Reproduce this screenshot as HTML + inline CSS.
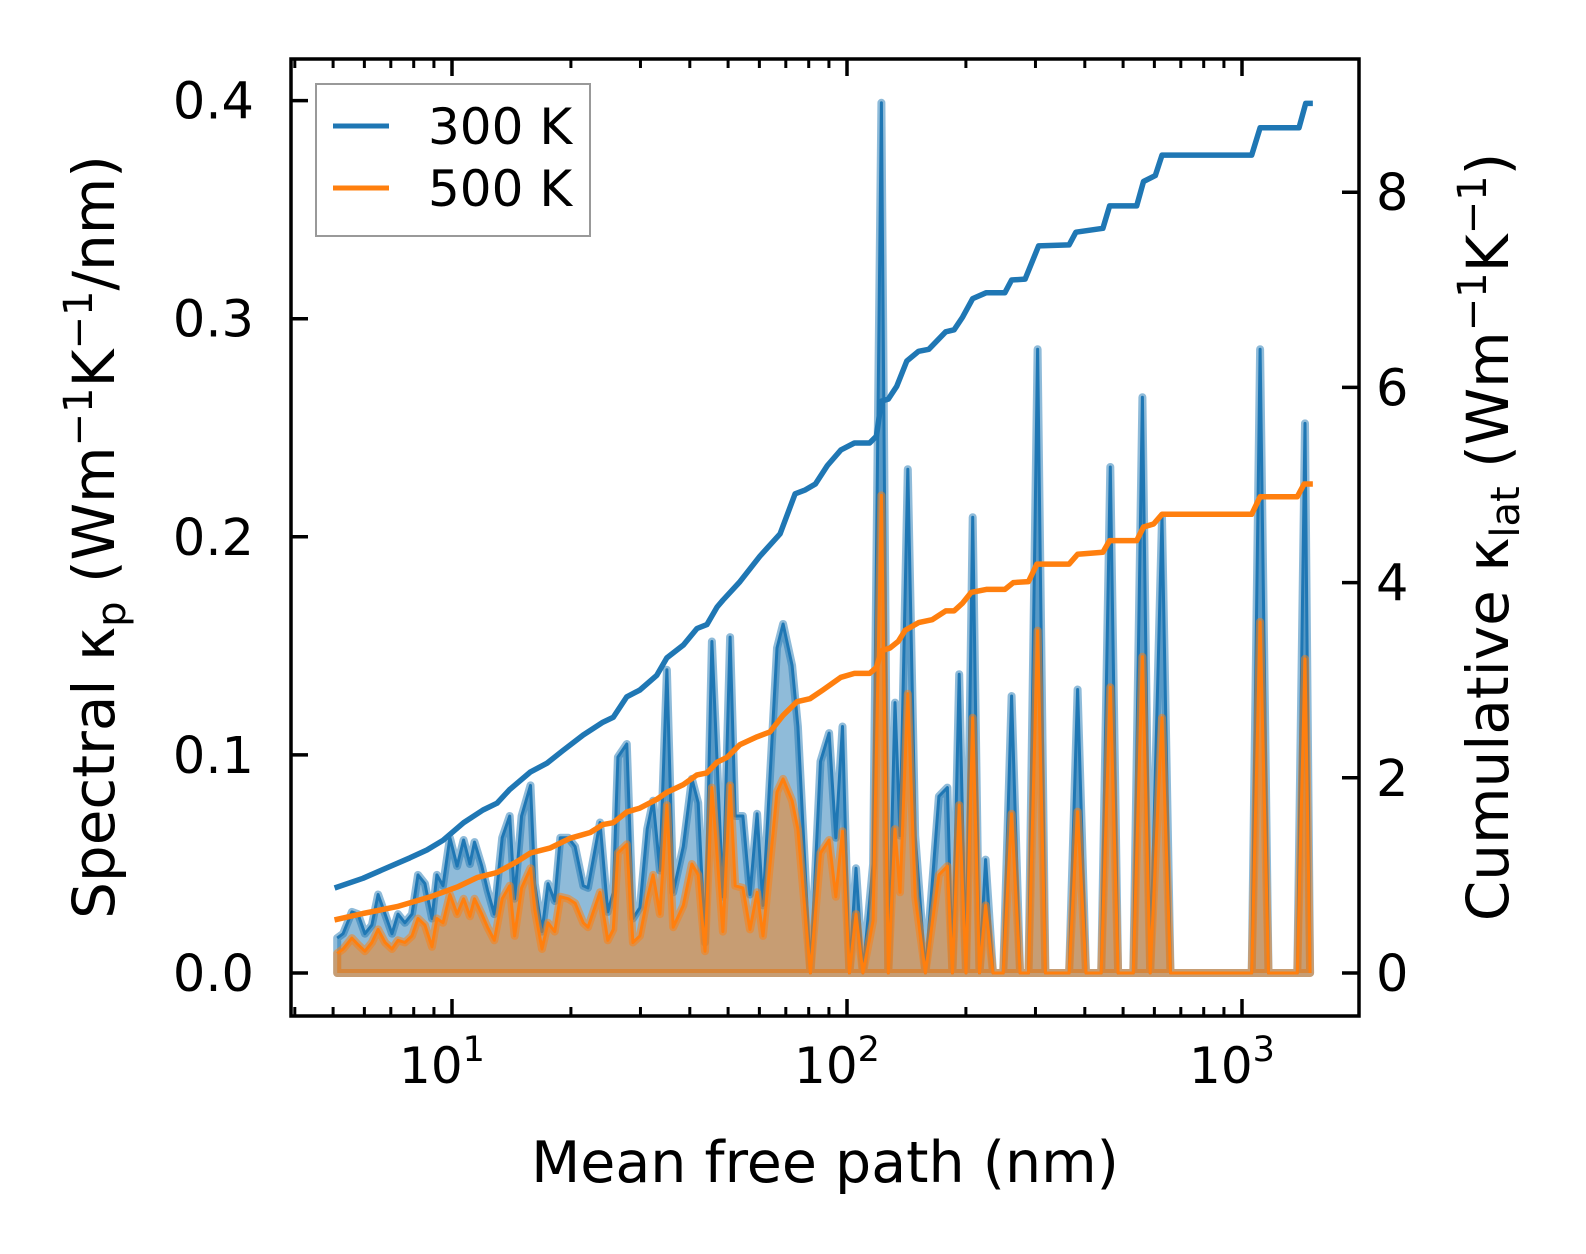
<!DOCTYPE html>
<html><head><meta charset="utf-8"><style>
html,body{margin:0;padding:0;background:#fff;}
svg{display:block;font-family:"DejaVu Sans","Liberation Sans",sans-serif;}
</style></head><body>
<svg id="chart" width="1586" height="1254" viewBox="0 0 1586 1254" xmlns="http://www.w3.org/2000/svg">
<rect x="0" y="0" width="1586" height="1254" fill="#fff"/>
<defs><clipPath id="plotclip"><rect x="291" y="59" width="1068" height="957"/></clipPath></defs>
<g id="plot" clip-path="url(#plotclip)"></g>
<g id="axes"></g>
<g id="legend">
<rect x="316" y="84" width="274" height="152" fill="#fff" fill-opacity="0.8" stroke="#999" stroke-width="2"/>
<line x1="333" y1="126" x2="389" y2="126" stroke="#1f77b4" stroke-width="5"/>
<text x="428" y="144" font-size="50">300 K</text>
<line x1="333" y1="188" x2="389" y2="188" stroke="#ff7f0e" stroke-width="5"/>
<text x="428" y="206" font-size="50">500 K</text>
</g>
<text x="825" y="1182" font-size="57" text-anchor="middle">Mean free path (nm)</text>
<text transform="translate(114,537) rotate(-90)" font-size="58" text-anchor="middle">Spectral κ<tspan font-size="40" dy="11">p</tspan><tspan dy="-11"> (Wm</tspan><tspan font-size="40" dy="-22">−1</tspan><tspan dy="22">K</tspan><tspan font-size="40" dy="-22">−1</tspan><tspan dy="22">/nm)</tspan></text>
<text transform="translate(1508,537) rotate(-90)" font-size="58" text-anchor="middle">Cumulative κ<tspan font-size="40" dy="11">lat</tspan><tspan dy="-11"> (Wm</tspan><tspan font-size="40" dy="-22">−1</tspan><tspan dy="22">K</tspan><tspan font-size="40" dy="-22">−1</tspan><tspan dy="22">)</tspan></text>
</svg>
<script>
// Spectral data (shared MFP grid, nm)
const mfp = [5.12,5.30,5.58,5.78,6.02,6.27,6.50,6.77,7.05,7.30,7.60,7.92,8.20,8.54,8.90,9.16,9.49,9.88,10.3,10.7,11.1,11.4,11.9,12.3,12.8,13.4,14.0,14.4,15.0,15.8,16.2,16.9,17.5,18.2,18.8,19.7,20.5,21.5,22.1,23.7,24.8,25.6,26.3,27.7,28.7,29.9,31.2,32.3,33.6,35.0,36.3,38.5,40.5,42.0,43.7,45.5,48.5,50.6,52.1,54.5,56.8,59.2,61.3,66.5,68.9,72.6,75.1,80.8,85.7,90.1,93.7,97.4,101.4,105.4,109.7,116.4,122.2,127.2,132.3,136.2,142.5,148.8,157.9,170.9,179.5,184.9,192.3,200.1,208.1,216.5,224.3,234.2,248.5,261.1,274.3,288.1,303.8,317.9,365.0,383.5,402.7,440.0,464.0,485.6,530.7,559.7,585.6,627.3,659.0,1058,1111,1167,1380,1444,1487];
const spec300 = [.016,.018,.028,.027,.018,.022,.036,.027,.018,.027,.023,.027,.045,.041,.025,.045,.040,.062,.049,.061,.050,.060,.049,.038,.027,.062,.072,.034,.072,.086,.041,.019,.041,.033,.062,.062,.058,.040,.039,.069,.028,.037,.099,.105,.025,.030,.066,.079,.047,.139,.037,.058,.089,.078,.014,.152,.035,.154,.072,.072,.036,.073,.031,.149,.160,.141,.113,0,.097,.110,.062,.113,0,.048,0,.050,.399,0,.124,.063,.231,.063,0,.081,.085,0,.137,0,.209,0,.052,0,0,.127,0,0,.286,0,0,.130,0,0,.232,0,0,.264,0,.209,0,0,.286,0,0,.252,0];
const spec500 = [.009,.011,.016,.013,.010,.014,.020,.014,.011,.015,.014,.017,.025,.022,.012,.025,.023,.036,.027,.034,.026,.034,.027,.021,.015,.034,.040,.017,.039,.048,.029,.011,.023,.019,.035,.034,.032,.023,.021,.037,.015,.020,.055,.059,.014,.017,.034,.045,.027,.077,.021,.031,.050,.045,.010,.085,.019,.086,.040,.039,.020,.037,.017,.083,.089,.079,.066,0,.055,.061,.035,.065,0,.027,0,.024,.219,0,.066,.037,.128,.035,0,.045,.049,0,.077,0,.117,0,.031,0,0,.073,0,0,.157,0,0,.074,0,0,.131,0,0,.145,0,.117,0,0,.161,0,0,.144,0];
// Cumulative data
const cumMfp300 = [5.12,5.95,6.69,7.83,8.64,9.49,10.7,11.98,13.0,14.0,15.8,17.4,19.1,21.5,24.1,25.6,27.7,29.9,33.0,35.0,38.5,41.7,44.2,46.9,48.5,53.6,60.2,67.7,73.9,78.4,83.2,89.2,96.5,104.4,114.1,118.7,122.2,127.2,133.6,141.7,151.8,161.1,177.8,186.7,196.2,208.1,225.2,251,261.1,282.4,305.6,365.0,379.8,444.4,462.2,541.4,563,603.3,627.3,1058,1111,1394,1450,1487];
const cum300 = [0.88,0.97,1.06,1.18,1.26,1.36,1.54,1.67,1.74,1.88,2.06,2.15,2.28,2.44,2.57,2.62,2.83,2.90,3.05,3.23,3.36,3.53,3.57,3.75,3.82,4.01,4.27,4.50,4.91,4.95,5.01,5.20,5.36,5.43,5.43,5.50,5.86,5.88,6.01,6.27,6.37,6.39,6.57,6.59,6.72,6.91,6.97,6.97,7.10,7.11,7.45,7.46,7.59,7.63,7.86,7.86,8.11,8.17,8.38,8.38,8.66,8.66,8.91,8.91];
const cumMfp500 = [5.12,5.95,7.26,8.80,10.3,11.6,13.0,14.6,15.8,17.7,19.9,22.4,24.1,25.6,27.7,29.9,33.0,35.0,38.5,41.7,44.2,46.9,49.7,53.6,59.2,63.8,68.9,74.7,80.6,86.9,96.5,104.4,114.1,118.7,122.2,128.5,134.9,140.3,151.8,164.3,177.8,186.7,196.2,206.1,225.2,251,263.6,288.1,302.6,365.0,383.5,444.4,462.2,541.4,563,597.3,627.3,1058,1111,1380,1436,1487];
const cum500 = [0.55,0.61,0.68,0.78,0.88,0.98,1.03,1.14,1.23,1.28,1.38,1.44,1.52,1.54,1.65,1.69,1.78,1.85,1.93,2.03,2.05,2.16,2.21,2.34,2.42,2.47,2.64,2.78,2.81,2.90,3.03,3.07,3.07,3.13,3.30,3.33,3.40,3.51,3.59,3.62,3.71,3.71,3.79,3.90,3.93,3.93,4.00,4.01,4.19,4.19,4.29,4.31,4.43,4.43,4.57,4.60,4.70,4.70,4.88,4.88,5.01,5.01];
// Ticks
const leftTicks = [0,0.1,0.2,0.3,0.4];
const leftTickLabels = ["0.0","0.1","0.2","0.3","0.4"];
const rightTicks = [0,2,4,6,8];
const rightTickLabels = ["0","2","4","6","8"];
const xMajorTicks = [10,100,1000];
const xMajorExp = ["1","2","3"];

const NS = "http://www.w3.org/2000/svg";
const X0 = 291, X1 = 1359, Y0 = 59, Y1 = 1016;
function xs(v){ return 452 + (Math.log10(v) - 1) * 395; }
function ysL(v){ return 973 - v * 2181; }
function ysR(v){ return 973 - v * 97.6; }
function mk(tag, attrs, parent){
  const e = document.createElementNS(NS, tag);
  for (const k in attrs) e.setAttribute(k, attrs[k]);
  parent.appendChild(e);
  return e;
}
const plot = document.getElementById('plot');
const axes = document.getElementById('axes');

function spectral(vals, color, name){
  let line = '';
  for (let i = 0; i < mfp.length; i++) line += (i ? 'L' : 'M') + xs(mfp[i]).toFixed(1) + ',' + ysL(vals[i]).toFixed(1);
  const fillD = line + 'L' + xs(mfp[mfp.length-1]).toFixed(1) + ',' + ysL(0) + 'L' + xs(mfp[0]).toFixed(1) + ',' + ysL(0) + 'Z';
  const f = mk('path', {d: fillD, fill: color, 'fill-opacity': 0.5, stroke: color, 'stroke-opacity': 0.5, 'stroke-width': 8, 'stroke-linejoin': 'round'}, plot);
  
  
  const l = mk('path', {d: line, fill: 'none', stroke: color, 'stroke-width': 3, 'stroke-linejoin': 'round'}, plot);
  
  
}
spectral(spec300, '#1f77b4', 'spectral-300k');
spectral(spec500, '#ff7f0e', 'spectral-500k');

function cumLine(xv, yv, color, name){
  let d = '';
  for (let i = 0; i < xv.length; i++) d += (i ? 'L' : 'M') + xs(xv[i]).toFixed(1) + ',' + ysR(yv[i]).toFixed(1);
  const p = mk('path', {d: d, fill: 'none', stroke: color, 'stroke-width': 5.5, 'stroke-linejoin': 'round', 'stroke-linecap': 'square'}, plot);
  
  
}
cumLine(cumMfp300, cum300, '#1f77b4', 'cumulative-300k-line');
cumLine(cumMfp500, cum500, '#ff7f0e', 'cumulative-500k-line');

// frame
const frame = mk('rect', {x: X0, y: Y0, width: X1 - X0, height: Y1 - Y0, fill: 'none', stroke: '#000', 'stroke-width': 3.5}, axes);



// x ticks (bottom & top)
for (let dec = 0; dec <= 3; dec++){
  for (let m = 1; m <= 9; m++){
    const v = m * Math.pow(10, dec);
    const x = xs(v);
    if (x < X0 || x > X1) continue;
    const len = (m === 1) ? 17 : 9;
    const w = (m === 1) ? 3.5 : 3;
    const tb = mk('line', {x1: x, y1: Y1, x2: x, y2: Y1 - len, stroke: '#000', 'stroke-width': w}, axes);
    
    
    const tt = mk('line', {x1: x, y1: Y0, x2: x, y2: Y0 + len, stroke: '#000', 'stroke-width': w}, axes);
    
    
  }
}
xMajorTicks.forEach((v, i) => {
  const t = mk('text', {x: xs(v) - 10, y: 1083, 'font-size': 50, 'text-anchor': 'middle'}, axes);
  
  
  t.textContent = '10';
  const s = mk('tspan', {'font-size': 35, dy: -22}, t);
  s.textContent = xMajorExp[i];
});
leftTicks.forEach((v, i) => {
  const y = ysL(v);
  const tk = mk('line', {x1: X0, y1: y, x2: X0 + 17, y2: y, stroke: '#000', 'stroke-width': 3.5}, axes);
  
  
  const t = mk('text', {x: 254, y: y + 18, 'font-size': 51, 'text-anchor': 'end'}, axes);
  
  
  t.textContent = leftTickLabels[i];
});
rightTicks.forEach((v, i) => {
  const y = ysR(v);
  const tk = mk('line', {x1: X1, y1: y, x2: X1 - 17, y2: y, stroke: '#000', 'stroke-width': 3.5}, axes);
  
  
  const t = mk('text', {x: 1376, y: y + 18, 'font-size': 51, 'text-anchor': 'start'}, axes);
  
  
  t.textContent = rightTickLabels[i];
});
</script>
</body></html>
